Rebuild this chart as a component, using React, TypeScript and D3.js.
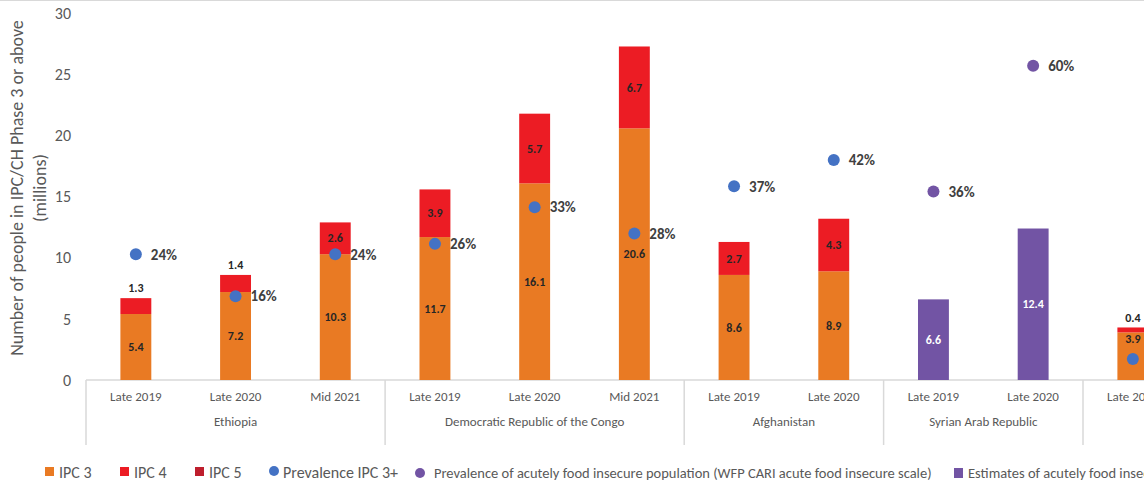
import React from 'react';
import * as d3 from 'd3';

// one entry per bar slot, grouped by country
const countries = [
  'Ethiopia', 'Ethiopia', 'Ethiopia',
  'Democratic Republic of the Congo', 'Democratic Republic of the Congo', 'Democratic Republic of the Congo',
  'Afghanistan', 'Afghanistan',
  'Syrian Arab Republic', 'Syrian Arab Republic',
  'Nigeria', 'Nigeria',
];
const periods = [
  'Late 2019', 'Late 2020', 'Mid 2021',
  'Late 2019', 'Late 2020', 'Mid 2021',
  'Late 2019', 'Late 2020',
  'Late 2019', 'Late 2020',
  'Late 2019', 'Late 2020',
];
const ipc3: (number | null)[] = [5.4, 7.2, 10.3, 11.7, 16.1, 20.6, 8.6, 8.9, null, null, 3.9, null];
const ipc4: (number | null)[] = [1.3, 1.4, 2.6, 3.9, 5.7, 6.7, 2.7, 4.3, null, null, 0.4, null];
const ipc5: (number | null)[] = [null, null, null, null, null, null, null, null, null, null, null, null];
const prevalence: (number | null)[] = [0.24, 0.16, 0.24, 0.26, 0.33, 0.28, 0.37, 0.42, null, null, 0.04, null];
const cariEstimate: (number | null)[] = [null, null, null, null, null, null, null, null, 6.6, 12.4, null, null];
const cariPrevalence: (number | null)[] = [null, null, null, null, null, null, null, null, 0.36, 0.60, null, null];

const yTicks = [0, 5, 10, 15, 20, 25, 30];

const W = 1144;
const H = 487;
const FONT = 'Carlito, Lato, "Liberation Sans", sans-serif';
const C3 = '#E97A23';
const C4 = '#EC1C24';
const C5 = '#BE1E2D';
const BLUE = '#4472C4';
const PURPLE = '#7254A4';
const GRID = '#d9d9d9';
const TXT = '#595959';

export default function App() {
  const keys = countries.map((c, i) => `${c}|${periods[i]}`);
  const x = d3.scaleBand<string>().domain(keys).range([86, 86 + 99.7 * keys.length]).padding(0);
  const y = d3.scaleLinear().domain([0, 30]).range([380, 13.5]);
  // prevalence sits on a hidden secondary axis, 0-70%
  const yPct = d3.scaleLinear().domain([0, 0.7]).range([380, 13.5]);
  const bw = x.bandwidth() * 0.31;

  const groups = d3.groups(keys.map((k, i) => ({ k, i, c: countries[i] })), d => d.c);

  const labelStyle = { fontFamily: FONT, fontWeight: 700, fontSize: 12 } as const;

  return (
    <svg width={W} height={H} style={{ position: 'absolute', left: 0, top: 0, background: '#fff' }}>
      <line x1={0} x2={W} y1={0.5} y2={0.5} stroke={GRID} />
      {/* y axis */}
      {yTicks.map(t => (
        <text key={t} x={71} y={y(t)} dy="0.35em" textAnchor="end" fontFamily={FONT} fontSize={16} fill={TXT}>{t}</text>
      ))}
      <g transform="translate(17,188) rotate(-90)">
        <text textAnchor="middle" dy="0.35em" fontFamily={FONT} fontSize={18} fill={TXT}>Number of people in IPC/CH Phase 3 or above</text>
        <text y={23} textAnchor="middle" dy="0.35em" fontFamily={FONT} fontSize={18} fill={TXT}>(millions)</text>
      </g>

      {/* x axis with grouped categories */}
      <line x1={86} x2={W} y1={380} y2={380} stroke={GRID} strokeWidth={1.5} />
      {groups.map(([c, items]) => {
        const x0 = x(items[0].k)!;
        const x1 = x(items[items.length - 1].k)! + x.bandwidth();
        return (
          <g key={c}>
            <line x1={x0} x2={x0} y1={380} y2={445} stroke={GRID} strokeWidth={1.5} />
            <text x={(x0 + x1) / 2} y={421} dy="0.35em" textAnchor="middle" fontFamily={FONT} fontSize={13} fill={TXT}>{c}</text>
          </g>
        );
      })}
      {keys.map((k, i) => (
        <text key={k} x={x(k)! + x.bandwidth() / 2} y={396} dy="0.35em" textAnchor="middle" fontFamily={FONT} fontSize={13} fill={TXT}>{periods[i]}</text>
      ))}

      {/* bars */}
      {keys.map((k, i) => {
        const cx = x(k)! + x.bandwidth() / 2;
        const a = ipc3[i] ?? 0, b = ipc4[i] ?? 0, e = ipc5[i] ?? 0;
        const p = prevalence[i];
        const out: React.ReactNode[] = [];
        if (ipc3[i] != null) {
          out.push(<rect key="3" x={cx - bw / 2} y={y(a)} width={bw} height={y(0) - y(a)} fill={C3} />);
          let ly = y(a / 2);
          // keep the label clear of the prevalence dot
          if (p != null && Math.abs(yPct(p) - ly) < 12) ly = y(a) + 6;
          out.push(<text key="t3" x={cx} y={ly} dy="0.35em" textAnchor="middle" {...labelStyle} fill="#262626">{a.toFixed(1)}</text>);
        }
        if (ipc4[i] != null) {
          out.push(<rect key="4" x={cx - bw / 2} y={y(a + b)} width={bw} height={y(a) - y(a + b)} fill={C4} />);
          const ly = b < 2 ? y(a + b) - 10 : y(a + b / 2);
          out.push(<text key="t4" x={cx} y={ly} dy="0.35em" textAnchor="middle" {...labelStyle} fill="#262626">{b.toFixed(1)}</text>);
        }
        if (ipc5[i] != null) {
          out.push(<rect key="5" x={cx - bw / 2} y={y(a + b + e)} width={bw} height={y(a + b) - y(a + b + e)} fill={C5} />);
        }
        const cv = cariEstimate[i];
        if (cv != null) {
          out.push(<rect key="c" x={cx - bw / 2} y={y(cv)} width={bw} height={y(0) - y(cv)} fill={PURPLE} />);
          out.push(<text key="tc" x={cx} y={y(cv / 2)} dy="0.35em" textAnchor="middle" {...labelStyle} fill="#fff">{cv.toFixed(1)}</text>);
        }
        return <g key={k}>{out}</g>;
      })}

      {/* prevalence dots */}
      {keys.map((k, i) => {
        const cx = x(k)! + x.bandwidth() / 2;
        const p = prevalence[i] ?? cariPrevalence[i];
        if (p == null) return null;
        const col = prevalence[i] != null ? BLUE : PURPLE;
        return (
          <g key={k}>
            <circle cx={cx} cy={yPct(p)} r={6} fill={col} />
            <text x={cx + 15} y={yPct(p)} dy="0.35em" fontFamily={FONT} fontWeight={700} fontSize={15} fill="#404040">{d3.format('.0%')(p)}</text>
          </g>
        );
      })}

      {/* legend */}
      <g fontFamily={FONT} fill={TXT}>
        <rect x={45} y={467} width={9} height={9} fill={C3} />
        <text x={59} y={472} dy="0.35em" fontSize={16}>IPC 3</text>
        <rect x={120} y={467} width={9} height={9} fill={C4} />
        <text x={134} y={472} dy="0.35em" fontSize={16}>IPC 4</text>
        <rect x={195} y={467} width={9} height={9} fill={C5} />
        <text x={209} y={472} dy="0.35em" fontSize={16}>IPC 5</text>
        <circle cx={274} cy={471} r={5} fill={BLUE} />
        <text x={283} y={472} dy="0.35em" fontSize={16}>Prevalence IPC 3+</text>
        <circle cx={420} cy={473} r={5} fill={PURPLE} />
        <text x={434} y={473} dy="0.35em" fontSize={14.5}>Prevalence of acutely food insecure population (WFP CARI acute food insecure scale)</text>
        <rect x={954} y={468} width={9} height={10} fill={PURPLE} />
        <text x={968} y={473} dy="0.35em" fontSize={14.5}>Estimates of acutely food insecure population (WFP CARI)</text>
      </g>
    </svg>
  );
}
